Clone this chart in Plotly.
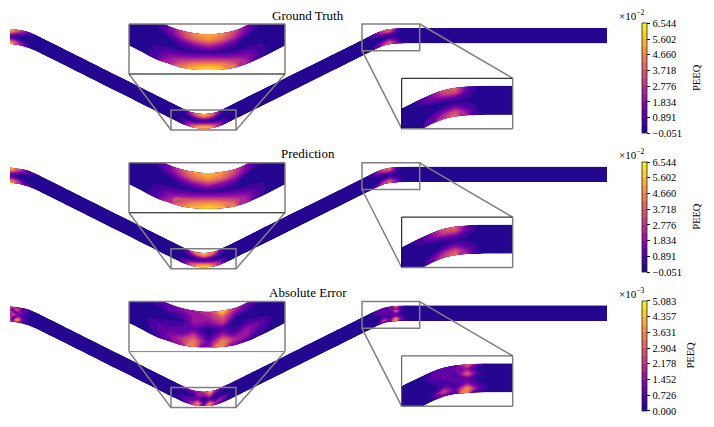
import plotly.graph_objects as go

W, H = 714, 427

strip_x = [10, 13, 16, 19, 22, 26, 30, 36, 44, 60, 120, 160, 170, 176, 182, 188, 193, 198, 204, 210,
           215, 220, 226, 232, 238, 250, 300, 350, 360, 366, 372, 378, 384, 390, 396, 402, 410, 420, 500, 607]
strip_top = [29, 29.2, 29.6, 30, 30.4, 31.2, 32.4, 35, 39, 47, 77, 97, 102, 105, 108, 111, 112.6, 113.6, 114.1, 113.6,
             112.6, 110.5, 107.5, 104.6, 101.6, 95.6, 70.8, 46, 41, 38, 35, 32.3, 30.2, 29, 28.4, 28.1, 28, 28, 28, 28]
strip_bottom = [44, 44.2, 44.6, 45.2, 46, 47.2, 48.4, 51, 55, 63, 93, 113.1, 118.1, 121, 124, 126, 127.5, 128.2, 128.4, 128.2,
                127.5, 126, 123.5, 120.6, 117.6, 111.7, 86.9, 62, 57, 54, 51.2, 48, 45.5, 44.2, 43.6, 43.4, 43.3, 43.3, 43.3, 43.3]
layers = [0, 1, 2, 3, 4, 5, 6]

# PEEQ per station, top layer to bottom layer (x 1e-2)
truth = [
    [5.6, 4.6, 2.2, 0.4, 2.0, 4.4, 6.0],
    [5.2, 4.2, 1.8, 0.3, 1.8, 4.0, 5.0],
    [4.6, 3.4, 1.2, 0.2, 1.4, 3.2, 3.8],
    [3.8, 2.6, 0.8, 0.1, 0.9, 2.4, 3.0],
    [3.0, 1.9, 0.5, 0.1, 0.6, 1.7, 2.2],
    [2.0, 1.2, 0.3, 0, 0.3, 0.9, 1.2],
    [1.2, 0.7, 0.1, 0, 0.1, 0.4, 0.6],
    [0.5, 0.2, 0, 0, 0, 0.1, 0.2],
    [0.1, 0, 0, 0, 0, 0, 0],
    [0, 0, 0, 0, 0, 0, 0],
    [0, 0, 0, 0, 0, 0, 0],
    [0, 0, 0, 0, 0, 0, 0],
    [0, 0, 0, 0, 0, 0, 0],
    [0, 0, 0, 0, 0, 0, 0],
    [0.3, 0.3, 0.1, 0, 0.5, 0.6, 0.5],
    [1.6, 1.2, 0.4, 0.1, 1.0, 2.0, 2.6],
    [3.4, 2.6, 1.0, 0.2, 1.5, 3.2, 4.6],
    [4.8, 3.8, 1.7, 0.3, 1.9, 4.3, 5.8],
    [5.4, 4.6, 2.4, 0.4, 2.2, 4.8, 6.4],
    [4.8, 3.8, 1.7, 0.3, 1.9, 4.3, 5.8],
    [3.4, 2.6, 1.0, 0.2, 1.5, 3.2, 4.6],
    [1.6, 1.2, 0.4, 0.1, 1.0, 2.0, 2.6],
    [0.3, 0.3, 0.1, 0, 0.5, 0.6, 0.5],
    [0, 0, 0, 0, 0, 0, 0],
    [0, 0, 0, 0, 0, 0, 0],
    [0, 0, 0, 0, 0, 0, 0],
    [0, 0, 0, 0, 0, 0, 0],
    [0, 0, 0, 0, 0, 0, 0],
    [0, 0, 0, 0, 0, 0, 0],
    [0.2, 0.1, 0, 0, 0, 0, 0],
    [0.8, 0.6, 0.1, 0, 0, 0.2, 0.3],
    [2.0, 1.5, 0.5, 0, 0.3, 0.9, 1.2],
    [3.6, 2.8, 1.0, 0.1, 0.9, 2.4, 3.0],
    [4.1, 3.2, 1.1, 0.3, 1.4, 3.4, 4.0],
    [1.2, 1.0, 0.5, 0.3, 0.8, 1.6, 2.4],
    [0.2, 0.2, 0.1, 0.1, 0.3, 0.4, 0.6],
    [0, 0, 0, 0, 0, 0, 0],
    [0, 0, 0, 0, 0, 0, 0],
    [0, 0, 0, 0, 0, 0, 0],
    [0, 0, 0, 0, 0, 0, 0],
]

prediction = [
    [5.4, 4.5, 2.1, 0.4, 2.0, 4.3, 5.7],
    [5.1, 4.1, 1.8, 0.3, 1.8, 3.9, 4.9],
    [4.5, 3.3, 1.2, 0.2, 1.4, 3.2, 3.8],
    [3.7, 2.5, 0.8, 0.1, 0.9, 2.4, 3.0],
    [2.9, 1.9, 0.5, 0.1, 0.6, 1.6, 2.1],
    [1.9, 1.2, 0.3, 0, 0.3, 0.9, 1.2],
    [1.1, 0.7, 0.1, 0, 0.1, 0.4, 0.6],
    [0.5, 0.2, 0, 0, 0, 0.1, 0.2],
    [0.1, 0, 0, 0, 0, 0, 0],
    [0, 0, 0, 0, 0, 0, 0],
    [0, 0, 0, 0, 0, 0, 0],
    [0, 0, 0, 0, 0, 0, 0],
    [0, 0, 0, 0, 0, 0, 0],
    [0, 0, 0, 0, 0, 0, 0],
    [0.3, 0.3, 0.1, 0, 0.5, 0.6, 0.5],
    [1.7, 1.3, 0.4, 0.1, 1.0, 2.1, 2.6],
    [3.6, 2.7, 1.0, 0.2, 1.6, 3.3, 4.6],
    [5.0, 4.0, 1.8, 0.3, 2.0, 4.4, 5.7],
    [5.7, 4.8, 2.5, 0.4, 2.3, 4.8, 6.2],
    [5.0, 4.0, 1.8, 0.3, 2.0, 4.4, 5.7],
    [3.6, 2.7, 1.0, 0.2, 1.6, 3.3, 4.6],
    [1.7, 1.3, 0.4, 0.1, 1.0, 2.1, 2.6],
    [0.3, 0.3, 0.1, 0, 0.5, 0.6, 0.5],
    [0, 0, 0, 0, 0, 0, 0],
    [0, 0, 0, 0, 0, 0, 0],
    [0, 0, 0, 0, 0, 0, 0],
    [0, 0, 0, 0, 0, 0, 0],
    [0, 0, 0, 0, 0, 0, 0],
    [0, 0, 0, 0, 0, 0, 0],
    [0.2, 0.1, 0, 0, 0, 0, 0],
    [0.8, 0.6, 0.1, 0, 0, 0.2, 0.3],
    [2.1, 1.6, 0.5, 0, 0.3, 1.0, 1.3],
    [3.7, 2.9, 1.0, 0.1, 1.0, 2.5, 3.2],
    [4.0, 3.2, 1.1, 0.3, 1.5, 3.4, 4.1],
    [1.1, 1.0, 0.5, 0.3, 0.8, 1.6, 2.4],
    [0.2, 0.2, 0.1, 0.1, 0.3, 0.4, 0.6],
    [0, 0, 0, 0, 0, 0, 0],
    [0, 0, 0, 0, 0, 0, 0],
    [0, 0, 0, 0, 0, 0, 0],
    [0, 0, 0, 0, 0, 0, 0],
]

# absolute error (x 1e-3)
error = [
    [4.0, 1.6, 3.0, 1.2, 3.0, 2.0, 2.6],
    [2.6, 0.6, 1.2, 3.0, 1.0, 0.6, 2.0],
    [1.0, 3.2, 0.6, 1.8, 0.8, 4.4, 1.4],
    [2.4, 2.0, 1.6, 0.8, 2.4, 3.4, 1.0],
    [1.2, 0.6, 1.4, 0.3, 1.2, 1.0, 0.4],
    [0.9, 1.0, 0.3, 0.5, 0.4, 0.6, 0.2],
    [0.5, 0.2, 0.5, 0.1, 0.3, 0.1, 0.1],
    [0.1, 0.3, 0.1, 0.1, 0.1, 0.1, 0.05],
    [0.1, 0.05, 0.05, 0.05, 0.05, 0.05, 0.05],
    [0.05, 0.05, 0.05, 0.05, 0.05, 0.05, 0.05],
    [0.05, 0.05, 0.05, 0.05, 0.05, 0.05, 0.05],
    [0.05, 0.05, 0.05, 0.05, 0.05, 0.05, 0.05],
    [0.05, 0.05, 0.05, 0.05, 0.05, 0.05, 0.05],
    [0.1, 0.1, 0.05, 0.1, 0.1, 0.1, 0.1],
    [0.5, 0.4, 0.1, 0.3, 0.7, 0.5, 0.3],
    [1.0, 0.8, 0.2, 0.5, 1.0, 1.3, 0.9],
    [1.6, 0.8, 0.3, 0.8, 1.0, 2.2, 1.8],
    [1.8, 1.6, 1.6, 0.9, 2.2, 3.4, 3.4],
    [2.0, 1.8, 1.2, 0.2, 0.3, 0.8, 1.4],
    [4.8, 3.0, 2.2, 0.6, 1.8, 3.6, 3.6],
    [2.2, 1.2, 0.3, 0.3, 0.8, 2.0, 1.2],
    [1.4, 0.6, 0.1, 0.6, 1.6, 1.6, 0.7],
    [0.8, 0.3, 0.1, 0.3, 1.0, 0.7, 0.3],
    [0.2, 0.1, 0.05, 0.1, 0.1, 0.1, 0.1],
    [0.05, 0.05, 0.05, 0.05, 0.05, 0.05, 0.05],
    [0.05, 0.05, 0.05, 0.05, 0.05, 0.05, 0.05],
    [0.05, 0.05, 0.05, 0.05, 0.05, 0.05, 0.05],
    [0.05, 0.05, 0.05, 0.05, 0.05, 0.05, 0.05],
    [0.05, 0.05, 0.05, 0.05, 0.05, 0.05, 0.05],
    [0.05, 0.05, 0.05, 0.05, 0.05, 0.05, 0.05],
    [0.2, 0.1, 0.05, 0.05, 0.05, 0.05, 0.05],
    [0.6, 1.0, 0.5, 0.3, 0.1, 0.5, 0.1],
    [1.0, 0.8, 1.2, 0.5, 0.9, 2.6, 0.9],
    [0.7, 1.1, 0.4, 1.0, 0.5, 0.9, 0.7],
    [3.4, 1.6, 3.0, 0.9, 1.4, 3.8, 3.4],
    [0.8, 0.2, 0.5, 0.2, 0.5, 1.0, 0.4],
    [0.05, 0.05, 0.05, 0.05, 0.05, 0.05, 0.05],
    [0.05, 0.05, 0.05, 0.05, 0.05, 0.05, 0.05],
    [0.05, 0.05, 0.05, 0.05, 0.05, 0.05, 0.05],
    [0.05, 0.05, 0.05, 0.05, 0.05, 0.05, 0.05],
]

titles = ["Ground Truth", "Prediction", "Absolute Error"]
fields = [truth, prediction, error]
tick_text = [
    ["\u22120.051", "0.891", "1.834", "2.776", "3.718", "4.660", "5.602", "6.544"],
    ["\u22120.051", "0.891", "1.834", "2.776", "3.718", "4.660", "5.602", "6.544"],
    ["0.000", "0.726", "1.452", "2.178", "2.904", "3.631", "4.357", "5.083"],
]
tick_vals = [
    [-0.051, 0.891, 1.834, 2.776, 3.718, 4.660, 5.602, 6.544],
    [-0.051, 0.891, 1.834, 2.776, 3.718, 4.660, 5.602, 6.544],
    [0.0, 0.726, 1.452, 2.178, 2.904, 3.631, 4.357, 5.083],
]
exponents = ["\u22122", "\u22122", "\u22123"]
row_offset = [0, 138.8, 277.6]
peeq_x = [697, 697, 691]

FONT = "Liberation Serif"
GRAY = "#808080"
PLASMA = [[0, "#0d0887"], [0.036, "#240691"], [0.111, "#46039f"], [0.222, "#7201a8"], [0.333, "#9c179e"],
          [0.444, "#bd3786"], [0.556, "#d8576b"], [0.667, "#ed7953"], [0.778, "#fb9f3a"], [0.889, "#fdca26"],
          [1, "#f0f921"]]


# the page has an 8px body margin, so positions are taken 8px back
def px(x):
    return (x - 8) / W


def py(y):
    return 1 - (y - 8) / H


def paper_line(x0, y0, x1, y1, color=GRAY, width=1.5):
    return dict(type="line", xref="paper", yref="paper", x0=px(x0), y0=py(y0), x1=px(x1), y1=py(y1),
                line=dict(color=color, width=width))


# carpet grid: each layer is a fraction of the way from top edge to bottom edge
grid_x = [strip_x for _ in layers]
grid_y = [[t + (b - t) * k / 6 for t, b in zip(strip_top, strip_bottom)] for k in layers]

a_hidden = dict(showgrid=False, showline=False, startline=False, endline=False, showticklabels="none",
                minorgridcount=0, smoothing=1)
b_hidden = dict(showgrid=False, showline=False, startline=False, endline=False, showticklabels="none",
                minorgridcount=0, smoothing=0)

# (x range, y range, pixel box of the inset)
insets = [
    ([171, 236], [130, 110], (129, 285, 24, 74)),
    ([362, 419.7], [50.7, 24], (401.7, 512.7, 78.3, 128.7)),
]

fig = go.Figure()
shapes = []
annotations = []
layout_axes = {}
n = 0


def add_panel(z, zmin, size, x_range, y_range, box, colorbar=None):
    global n
    n += 1
    suffix = "" if n == 1 else str(n)
    x0, x1, y0, y1 = box
    layout_axes["xaxis" + suffix] = dict(domain=[px(x0), px(x1)], range=x_range, visible=False, anchor="y" + suffix)
    layout_axes["yaxis" + suffix] = dict(domain=[py(y1), py(y0)], range=y_range, visible=False, anchor="x" + suffix)
    cid = "c" + str(n)
    fig.add_trace(go.Carpet(carpet=cid, a=strip_x, b=layers, x=grid_x, y=grid_y, aaxis=a_hidden, baxis=b_hidden,
                            xaxis="x" + suffix, yaxis="y" + suffix))
    fig.add_trace(go.Contourcarpet(
        carpet=cid, a=strip_x, b=layers, z=[list(col) for col in zip(*z)],
        autocontour=False, zauto=False, zmin=zmin, zmax=zmin + size * 14,
        contours=dict(start=zmin, end=zmin + size * 14, size=size, coloring="fill", showlines=False),
        line=dict(width=0, smoothing=0.6), colorscale=PLASMA, showscale=colorbar is not None, colorbar=colorbar,
        xaxis="x" + suffix, yaxis="y" + suffix))


for r, z in enumerate(fields):
    off = row_offset[r]
    lo, hi = tick_vals[r][0], tick_vals[r][-1]
    size = (hi - lo) / 14
    cbar = dict(x=px(641.7), xanchor="left", thickness=5.3, thicknessmode="pixels", len=110 / H, lenmode="fraction",
                y=py(78.3 + off), yanchor="middle", xpad=0, ypad=0, outlinewidth=0.8, outlinecolor="#222222",
                tickmode="array", tickvals=tick_vals[r], ticktext=tick_text[r], ticks="outside", ticklen=3.5,
                tickwidth=1, tickcolor="black", tickfont=dict(family=FONT, size=10.5, color="black"))
    add_panel(z, lo, size, [10, 607], [134, 20], (10, 607, 20 + off, 134 + off), cbar)

    for i, (xr, yr, box) in enumerate(insets):
        x0, x1, y0, y1 = box
        add_panel(z, lo, size, xr, yr, (x0, x1, y0 + off, y1 + off))
        # box on the main sheet, the two leader lines, then the inset frame
        shapes.append(dict(type="rect", xref="paper", yref="paper", x0=px(xr[0]), x1=px(xr[1]),
                           y0=py(yr[0] + off), y1=py(yr[1] + off), line=dict(color=GRAY, width=1.5)))
        dark = "black" if r < 2 else GRAY
        if i == 0:
            shapes.append(paper_line(x0, y1 + off, xr[0], yr[0] + off))
            shapes.append(paper_line(x1, y1 + off, xr[1], yr[0] + off))
            shapes.append(paper_line(x0, y1 + off, x1, y1 + off, dark, 1))
            shapes.append(paper_line(x0, y0 + off, x1, y0 + off))
            shapes.append(paper_line(x0, y0 + off, x0, y1 + off))
            shapes.append(paper_line(x1, y0 + off, x1, y1 + off))
        else:
            dark = "black" if r < 2 else "#444444"
            shapes.append(paper_line(x0, y1 + off, xr[0], yr[0] + off))
            shapes.append(paper_line(x1, y0 + off, xr[1], yr[1] + off))
            shapes.append(paper_line(x0, y0 + off, x1, y0 + off, dark, 1))
            shapes.append(paper_line(x0, y0 + off, x0, y1 + off, dark, 1))
            shapes.append(paper_line(x1, y0 + off, x1, y1 + off))
            shapes.append(paper_line(x0, y1 + off, x1, y1 + off))

    annotations.append(dict(text=titles[r], x=px(308), y=py(15 + off), xref="paper", yref="paper", showarrow=False,
                            font=dict(family=FONT, size=13, color="black"), xanchor="center", yanchor="middle"))
    annotations.append(dict(text="\u00d710<sup>" + exponents[r] + "</sup>", x=px(632), y=py(15 + off), xref="paper",
                            yref="paper", showarrow=False, font=dict(family=FONT, size=11, color="black"),
                            xanchor="center", yanchor="middle"))
    annotations.append(dict(text="PEEQ", x=px(peeq_x[r]), y=py(78 + off), xref="paper", yref="paper", showarrow=False,
                            textangle=-90, font=dict(family=FONT, size=10.5, color="black"),
                            xanchor="center", yanchor="middle"))

fig.update_layout(width=W, height=H, margin=dict(l=0, r=0, t=0, b=0), paper_bgcolor="white", plot_bgcolor="white",
                  showlegend=False, shapes=shapes, annotations=annotations, **layout_axes)
fig.write_html("out.html")
